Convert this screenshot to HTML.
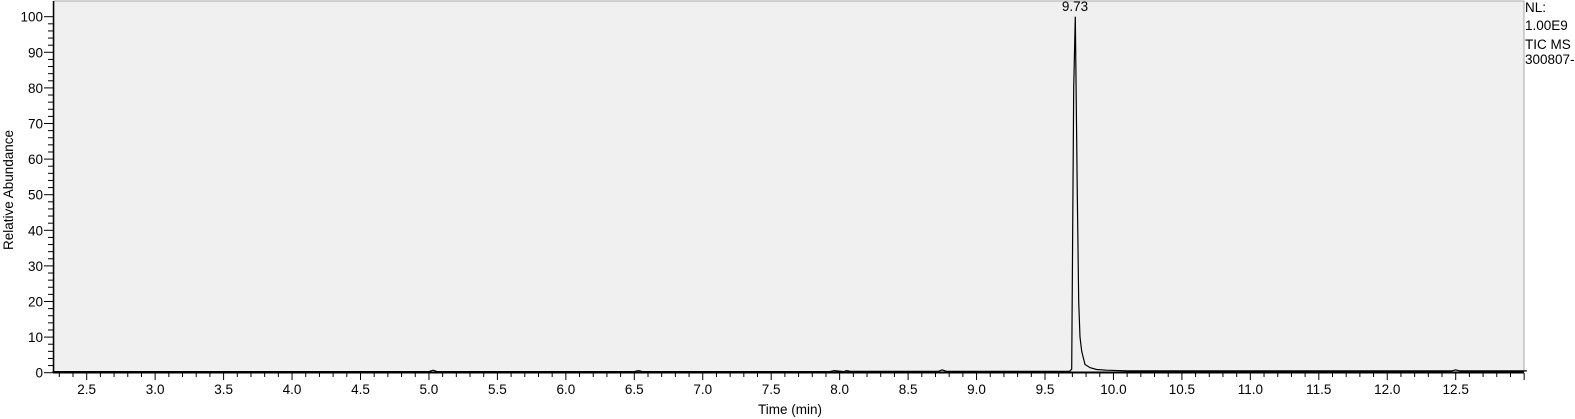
<!DOCTYPE html>
<html><head><meta charset="utf-8"><style>
html,body{margin:0;padding:0;background:#fff;overflow:hidden;width:1575px;height:419px}
svg{display:block}
svg text{font-family:"Liberation Sans",Arial,sans-serif;font-size:13.5px;fill:#000}
</style></head><body>
<svg id="c" width="1575" height="419">
<rect x="54" y="1" width="1470" height="371" fill="#f0f0f0" stroke="#a8a8a8"/>
<g id="ax"></g>
<path id="trace" fill="none" stroke="#000" stroke-width="1.2"/>
<text x="1075" y="11" text-anchor="middle">9.73</text>
<text x="1525" y="12">NL:</text>
<text x="1525" y="30">1.00E9</text>
<text x="1525" y="49">TIC  MS</text>
<text x="1525" y="64">300807-</text>
<text x="790" y="414" text-anchor="middle">Time (min)</text>
<text transform="translate(13,190) rotate(-90)" text-anchor="middle">Relative Abundance</text>
</svg>
<script>
const times=[2.25,3.0,4.0,5.0,5.03,5.06,6.0,6.5,6.53,6.56,7.5,7.93,7.96,8.03,8.05,8.08,8.3,8.72,8.75,8.78,9.5,9.68,9.695,9.71,9.721,9.727,9.736,9.746,9.756,9.768,9.792,9.83,9.878,9.95,10.097,11.0,12.0,12.47,12.5,12.53,13.02];
const abundance=[0.3,0.3,0.3,0.3,0.7,0.3,0.3,0.3,0.6,0.3,0.3,0.3,0.6,0.3,0.6,0.4,0.4,0.4,0.8,0.4,0.4,0.4,1.0,80,100,80,50,20,10,6,2.3,1.4,0.9,0.7,0.5,0.5,0.5,0.5,0.8,0.5,0.5];
const xTicks=[2.5,3.0,3.5,4.0,4.5,5.0,5.5,6.0,6.5,7.0,7.5,8.0,8.5,9.0,9.5,10.0,10.5,11.0,11.5,12.0,12.5];
const yTicks=[0,10,20,30,40,50,60,70,80,90,100];
const X=t=>86.7+(t-2.5)*136.9, Y=v=>372.7-3.56*v;
const ns="http://www.w3.org/2000/svg", ax=document.getElementById('ax');
function mk(tag,a){const e=document.createElementNS(ns,tag);for(const k in a)e.setAttribute(k,a[k]);ax.appendChild(e);return e;}
let l=mk('line',{x1:53,y1:372.5,x2:1524,y2:372.5,stroke:'#000','stroke-width':2});


l=mk('line',{x1:53.5,y1:1,x2:53.5,y2:373,stroke:'#000','stroke-width':1.5});


for(let i=23;i<=130;i++){const t=i/10;const major=i%5==0;
 const m=mk('line',{x1:X(t),x2:X(t),y1:373,y2:major?380:377,stroke:'#000'});
 
 }
xTicks.forEach(t=>{const e=mk('text',{x:X(t),y:394,'text-anchor':'middle'});e.textContent=t.toFixed(1);
 
 });
for(let v=0;v<=100;v+=2){const major=v%10==0;
 const m=mk('line',{x1:major?44:48,x2:54,y1:Y(v),y2:Y(v),stroke:'#000'});
 
 }
yTicks.forEach(v=>{const e=mk('text',{x:43,y:Y(v)+5,'text-anchor':'end'});e.textContent=v;
 
 });
document.getElementById('trace').setAttribute('d',times.map((t,i)=>(i?'L':'M')+X(t).toFixed(1)+','+Y(abundance[i]).toFixed(1)).join(''));
</script>
</body></html>
